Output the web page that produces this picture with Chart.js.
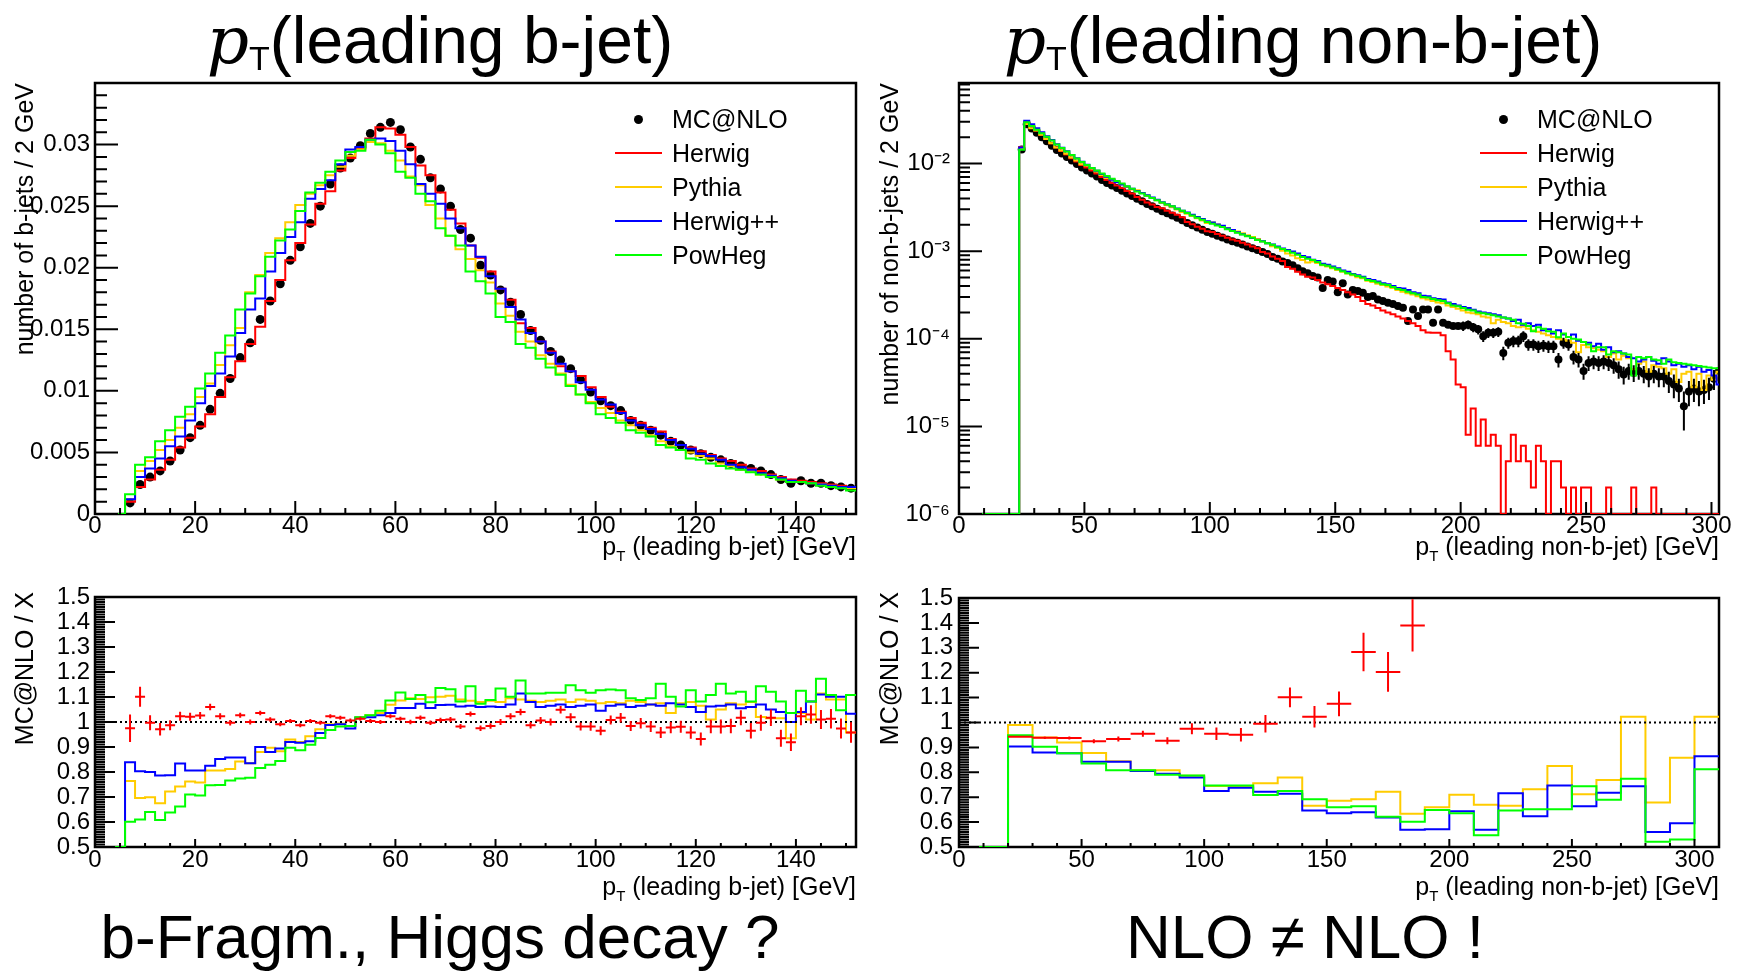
<!DOCTYPE html>
<html>
<head>
<meta charset="utf-8">
<script src="https://cdn.jsdelivr.net/npm/chart.js@4.4.1/dist/chart.umd.min.js"></script>
<style>
  body { margin: 0; background: #fff; width: 1745px; height: 971px; position: relative; overflow: hidden;
         font-family: "Liberation Sans", Arial, Helvetica, sans-serif; color: #000; }
  canvas { position: absolute; }
  .title { position: absolute; width: 600px; text-align: center; font-size: 66px; line-height: 66px; white-space: nowrap; }
  .title .pm { font-family: "DejaVu Serif", serif; font-style: italic; }
  .title .ps { font-size: 34px; vertical-align: -7px; }
  .big { position: absolute; width: 900px; text-align: center; font-size: 62px; line-height: 62px; white-space: nowrap; }
  .xt { position: absolute; font-size: 25px; line-height: 25px; white-space: nowrap; }
  .xt sub { font-size: 15px; vertical-align: -6px; line-height: 0; }
  .yt { position: absolute; width: 450px; text-align: right; font-size: 25px; line-height: 25px; white-space: nowrap;
        transform-origin: 0 0; transform: rotate(-90deg); }
  .lg { position: absolute; font-size: 25px; line-height: 34px; white-space: nowrap; }
  .lgline { position: absolute; height: 2px; }
  .lgdot { position: absolute; width: 9px; height: 9px; border-radius: 50%; background: #000; }
</style>
</head>
<body>
<canvas id="bTop" width="880" height="520" style="left:0px;top:60px"></canvas>
<canvas id="nTop" width="875" height="520" style="left:870px;top:60px"></canvas>
<canvas id="bRatio" width="880" height="320" style="left:0px;top:580px"></canvas>
<canvas id="nRatio" width="875" height="320" style="left:870px;top:580px"></canvas>

<div class="title" style="left:140px;top:7px"><span class="pm">p</span><span class="ps">T</span>(leading b-jet)</div>
<div class="title" style="left:1003px;top:7px"><span class="pm">p</span><span class="ps">T</span>(leading non-b-jet)</div>

<div class="yt" style="left:12px;top:533px">number of b-jets / 2 GeV</div>
<div class="yt" style="left:877px;top:533px">number of non-b-jets / 2 GeV</div>
<div class="yt" style="left:12px;top:1042px">MC@NLO / X</div>
<div class="yt" style="left:877px;top:1042px">MC@NLO / X</div>

<div class="xt" style="right:889px;top:534px">p<sub>T</sub> (leading b-jet) [GeV]</div>
<div class="xt" style="right:26px;top:534px">p<sub>T</sub> (leading non-b-jet) [GeV]</div>
<div class="xt" style="right:889px;top:874px">p<sub>T</sub> (leading b-jet) [GeV]</div>
<div class="xt" style="right:26px;top:874px">p<sub>T</sub> (leading non-b-jet) [GeV]</div>

<div class="big" style="left:-10px;top:906px">b-Fragm., Higgs decay ?</div>
<div class="big" style="left:855px;top:906px">NLO &ne; NLO !</div>

<script>
// ---- leading b-jet: 2 GeV bins, first filled bin starts at 6 GeV ----
const bBinStart = 6;
const bBinWidth = 2;
const bMcnlo = [
  0.0009, 0.0024, 0.0030, 0.0035, 0.0043, 0.0052, 0.0062, 0.0072, 0.0085, 0.0098,
  0.0110, 0.0127, 0.0139, 0.0158, 0.0173, 0.0187, 0.0206, 0.0217, 0.0236, 0.0250,
  0.0268, 0.0281, 0.0289, 0.0299, 0.0309, 0.0314, 0.0318, 0.0312, 0.0298, 0.0288,
  0.0273, 0.0264, 0.0250, 0.0231, 0.0224, 0.0202, 0.0194, 0.0182, 0.0172, 0.0162,
  0.0149, 0.0141, 0.0132, 0.0125, 0.0118, 0.0109, 0.0099, 0.0092, 0.0088, 0.0084,
  0.0076, 0.0072, 0.0068, 0.0064, 0.0059, 0.0056, 0.0052, 0.0049, 0.0046, 0.0044,
  0.0041, 0.0039, 0.0037, 0.0035, 0.0032, 0.0028, 0.0025, 0.0027, 0.0025, 0.0025,
  0.0023, 0.0022, 0.0021
];
const bHerwig = [
  0.0010, 0.0022, 0.0028, 0.0036, 0.0044, 0.0054, 0.0062, 0.0071, 0.0081, 0.0095,
  0.0111, 0.0124, 0.0138, 0.0152, 0.0173, 0.0190, 0.0206, 0.0220, 0.0235, 0.0252,
  0.0262, 0.0279, 0.0289, 0.0297, 0.0305, 0.0314, 0.0313, 0.0308, 0.0298, 0.0283,
  0.0275, 0.0261, 0.0247, 0.0236, 0.0218, 0.0208, 0.0197, 0.0183, 0.0174, 0.0155,
  0.0151, 0.0140, 0.0132, 0.0120, 0.0116, 0.0112, 0.0103, 0.0095, 0.0087, 0.0083,
  0.0078, 0.0074, 0.0070, 0.0067, 0.0061, 0.0056, 0.0054, 0.0051, 0.0048, 0.0045,
  0.0043, 0.0040, 0.0037, 0.0035, 0.0032, 0.0030, 0.0028, 0.0027, 0.0026, 0.0025,
  0.0024, 0.0023, 0.0022
];
const bPythia = [
  0.0012, 0.0035, 0.0043, 0.0052, 0.0060, 0.0070, 0.0081, 0.0095, 0.0106, 0.0121,
  0.0137, 0.0151, 0.0180, 0.0194, 0.0212, 0.0224, 0.0237, 0.0251, 0.0260, 0.0267,
  0.0275, 0.0282, 0.0291, 0.0296, 0.0302, 0.0301, 0.0295, 0.0287, 0.0274, 0.0267,
  0.0251, 0.0240, 0.0226, 0.0215, 0.0207, 0.0198, 0.0188, 0.0171, 0.0161, 0.0148,
  0.0140, 0.0129, 0.0122, 0.0114, 0.0105, 0.0097, 0.0091, 0.0086, 0.0082, 0.0076,
  0.0072, 0.0068, 0.0064, 0.0059, 0.0055, 0.0052, 0.0050, 0.0047, 0.0045, 0.0041,
  0.0039, 0.0036, 0.0035, 0.0032, 0.0031, 0.0028, 0.0026, 0.0026, 0.0025, 0.0024,
  0.0023, 0.0022, 0.0021
];
const bHerwigpp = [
  0.0012, 0.0030, 0.0037, 0.0045, 0.0055, 0.0063, 0.0076, 0.0090, 0.0104, 0.0114,
  0.0128, 0.0147, 0.0166, 0.0175, 0.0197, 0.0212, 0.0225, 0.0237, 0.0256, 0.0264,
  0.0271, 0.0284, 0.0296, 0.0298, 0.0304, 0.0305, 0.0303, 0.0295, 0.0284, 0.0268,
  0.0260, 0.0252, 0.0240, 0.0232, 0.0218, 0.0209, 0.0193, 0.0183, 0.0168, 0.0158,
  0.0147, 0.0140, 0.0131, 0.0122, 0.0116, 0.0107, 0.0101, 0.0093, 0.0089, 0.0082,
  0.0076, 0.0072, 0.0069, 0.0065, 0.0060, 0.0056, 0.0053, 0.0049, 0.0047, 0.0044,
  0.0040, 0.0038, 0.0036, 0.0033, 0.0031, 0.0029, 0.0027, 0.0026, 0.0025, 0.0024,
  0.0023, 0.0022, 0.0022
];
const bPowheg = [
  0.0016, 0.0040, 0.0046, 0.0059, 0.0068, 0.0079, 0.0087, 0.0102, 0.0114, 0.0131,
  0.0145, 0.0166, 0.0179, 0.0193, 0.0209, 0.0222, 0.0231, 0.0246, 0.0261, 0.0269,
  0.0278, 0.0287, 0.0294, 0.0295, 0.0304, 0.0300, 0.0293, 0.0278, 0.0273, 0.0260,
  0.0254, 0.0232, 0.0226, 0.0218, 0.0197, 0.0189, 0.0179, 0.0160, 0.0156, 0.0138,
  0.0135, 0.0126, 0.0119, 0.0113, 0.0104, 0.0097, 0.0090, 0.0081, 0.0078, 0.0074,
  0.0068, 0.0066, 0.0063, 0.0056, 0.0054, 0.0052, 0.0045, 0.0044, 0.0041, 0.0039,
  0.0037, 0.0036, 0.0034, 0.0032, 0.0030, 0.0028, 0.0026, 0.0026, 0.0025, 0.0023,
  0.0022, 0.0021, 0.0019
];
// ratio MC@NLO / X, same binning
const bRatioHerwig = [
  0.975, 1.101, 0.997, 0.971, 0.987, 1.023, 1.021, 1.026, 1.060, 1.023,
  0.997, 1.027, 1.000, 1.036, 1.010, 0.991, 1.004, 0.987, 1.004, 0.997,
  1.023, 1.017, 1.006, 1.013, 1.004, 1.000, 1.023, 1.013, 1.000, 1.017,
  0.997, 1.008, 1.010, 0.982, 1.032, 0.975, 0.984, 1.000, 1.023, 1.040,
  0.987, 1.006, 1.000, 1.049, 1.019, 0.982, 0.982, 0.965, 1.008, 1.017,
  0.984, 0.995, 0.982, 0.958, 0.978, 0.981, 0.958, 0.932, 0.982, 0.982,
  0.984, 1.017, 0.965, 0.997, 1.017, 0.935, 0.919, 1.023, 1.030, 1.010,
  1.013, 0.974, 0.958
];
const bRatioHerwigErr = [
  0.055, 0.040, 0.030, 0.025, 0.020, 0.018, 0.016, 0.014, 0.013, 0.012,
  0.011, 0.010, 0.010, 0.009, 0.009, 0.008, 0.008, 0.008, 0.008, 0.008,
  0.008, 0.008, 0.008, 0.008, 0.008, 0.008, 0.008, 0.008, 0.009, 0.009,
  0.009, 0.009, 0.010, 0.010, 0.010, 0.011, 0.011, 0.012, 0.012, 0.013,
  0.013, 0.014, 0.014, 0.015, 0.016, 0.016, 0.017, 0.018, 0.018, 0.019,
  0.020, 0.021, 0.022, 0.022, 0.023, 0.024, 0.025, 0.026, 0.027, 0.028,
  0.029, 0.030, 0.031, 0.032, 0.033, 0.034, 0.035, 0.036, 0.037, 0.038,
  0.039, 0.040, 0.041
];
const bRatioPythia = [
  0.764, 0.696, 0.699, 0.675, 0.722, 0.742, 0.762, 0.758, 0.806, 0.806,
  0.812, 0.842, 0.835, 0.880, 0.897, 0.883, 0.930, 0.920, 0.943, 0.971,
  0.991, 0.994, 0.984, 1.019, 1.027, 1.036, 1.069, 1.086, 1.095, 1.092,
  1.099, 1.101, 1.105, 1.090, 1.085, 1.080, 1.085, 1.080, 1.095, 1.090,
  1.085, 1.080, 1.085, 1.090, 1.080, 1.090, 1.085, 1.075, 1.080, 1.075,
  1.085, 1.080, 1.070, 1.075, 1.036, 1.075, 1.080, 1.065, 1.010, 1.050,
  1.075, 1.070, 1.080, 1.020, 1.015, 1.015, 0.935, 1.036, 1.010, 1.114,
  1.090, 1.090, 0.958
];
const bRatioHerwigpp = [
  0.839, 0.803, 0.800, 0.786, 0.787, 0.834, 0.806, 0.806, 0.825, 0.852,
  0.858, 0.858, 0.835, 0.900, 0.880, 0.894, 0.920, 0.917, 0.923, 0.956,
  0.988, 0.991, 0.974, 1.017, 1.019, 1.027, 1.036, 1.056, 1.056, 1.073,
  1.056, 1.068, 1.069, 1.062, 1.065, 1.060, 1.062, 1.060, 1.070, 1.114,
  1.080, 1.060, 1.065, 1.070, 1.060, 1.065, 1.070, 1.045, 1.065, 1.070,
  1.060, 1.065, 1.070, 1.065, 1.075, 1.070, 1.060, 1.040, 1.062, 1.065,
  1.070, 1.055, 1.060, 1.070, 1.050, 1.040, 1.000, 1.040, 1.082, 1.110,
  1.101, 1.101, 1.033
];
const bRatioPowheg = [
  0.601, 0.610, 0.640, 0.608, 0.638, 0.662, 0.710, 0.706, 0.747, 0.748,
  0.766, 0.774, 0.777, 0.816, 0.829, 0.844, 0.897, 0.887, 0.909, 0.936,
  0.968, 0.982, 0.984, 1.019, 1.027, 1.045, 1.086, 1.118, 1.092, 1.108,
  1.079, 1.136, 1.131, 1.082, 1.143, 1.073, 1.088, 1.134, 1.101, 1.166,
  1.114, 1.114, 1.117, 1.117, 1.147, 1.127, 1.117, 1.127, 1.130, 1.127,
  1.095, 1.088, 1.095, 1.153, 1.101, 1.062, 1.127, 1.082, 1.108, 1.153,
  1.114, 1.121, 1.082, 1.143, 1.121, 1.082, 1.036, 1.125, 1.082, 1.173,
  1.108, 1.047, 1.108
];

// ---- leading non-b-jet: 2 GeV bins from 24 GeV, values in units of 1e-6 ----
const nBinStart = 24;
const nBinWidth = 2;
const nUnit = 1e-6;
const nMcnlo = [
  14500, 28000, 25100, 22400, 20000, 17900, 16000, 14300, 13000, 11900,
  10800, 9900, 9000, 8300, 7700, 7100, 6500, 6000, 5600, 5250,
  4900, 4550, 4250, 3950, 3700, 3450, 3250, 3050, 2850, 2700,
  2550, 2400, 2250, 2100, 1980, 1860, 1760, 1650, 1580, 1500,
  1430, 1360, 1300, 1250, 1190, 1130, 1080, 1030, 980, 930,
  860, 820, 760, 730, 690, 640, 590, 560, 520, 500,
  380, 470, 450, 340, 430, 320, 360, 350, 335, 300,
  307, 281, 270, 258, 250, 236, 226, 159, 216, 182,
  216, 216, 152, 216, 152, 145, 140, 140, 140, 145,
  135, 128, 107, 117, 117, 120, 69, 90, 94, 94,
  107, 86, 86, 82, 84, 82, 82, 58, 90, 86,
  62, 58, 43, 53, 55, 53, 55, 53, 50, 45,
  39, 43, 41, 43, 40, 37, 40, 37, 37, 33,
  30, 27, 17, 25, 27, 25, 26, 28, 35, 43
];
const nMcnloErrFrom = 200;   // error bars drawn from this pT on
const nMcnloErr = [
  17, 17, 16, 16, 15, 15, 15, 15, 12, 13,
  14, 14, 15, 13, 13, 13, 13, 13, 13, 11,
  13, 13, 11, 11, 9, 10, 10, 10, 10, 10,
  10, 10, 9, 9, 9, 9, 9, 9, 9, 9,
  9, 9, 9, 8, 8, 8, 8, 8, 8, 8, 9, 10
];
const nHerwig = [
  15400, 29700, 26600, 23800, 21300, 19000, 17000, 15200, 13900, 12700,
  11500, 10550, 9600, 9000, 8300, 7700, 7000, 6500, 6000, 5600,
  5250, 4850, 4550, 4150, 3870, 3600, 3400, 3200, 3080, 2900,
  2750, 2600, 2430, 2150, 2030, 1900, 1800, 1690, 1650, 1570,
  1500, 1420, 1360, 1310, 1250, 1190, 1130, 1080, 980, 940,
  870, 820, 770, 660, 630, 580, 540, 510, 500, 470,
  440, 420, 400, 380, 360, 340, 320, 300, 270, 250,
  240, 225, 210, 200, 190, 180, 170, 160, 150, 140,
  125, 118, 117, 117, 110, 72, 58, 30, 28, 8,
  16, 6, 12, 6, 8, 6, 0, 4, 8, 4,
  6, 4, 2, 6, 4, 0, 4, 4, 2, 0,
  2, 0, 2, 2, 0, 0, 0, 2, 0, 0,
  0, 0, 2, 0, 0, 0, 2, 0, 0, 0,
  0, 0, 0, 0, 0, 0, 0, 0, 0, 0
];
const nPythia = [
  14650, 28300, 25350, 23800, 21300, 19000, 17000, 15200, 14100, 12900,
  11700, 10800, 9800, 9500, 8800, 8100, 7400, 6850, 6600, 6200,
  5800, 5400, 5050, 4950, 4600, 4300, 4050, 3800, 3550, 3350,
  3170, 2980, 2800, 2680, 2520, 2370, 2240, 2100, 2120, 2010,
  1920, 1830, 1740, 1680, 1600, 1520, 1450, 1380, 1300, 1230,
  1140, 1090, 1010, 940, 890, 830, 790, 740, 760, 730,
  690, 670, 640, 610, 580, 555, 530, 505, 490, 460,
  445, 425, 410, 395, 380, 360, 345, 330, 320, 305,
  290, 280, 270, 260, 255, 240, 230, 220, 210, 200,
  195, 190, 180, 175, 150, 165, 155, 150, 140, 135,
  138, 130, 125, 120, 115, 110, 105, 100, 98, 95,
  90, 70, 85, 80, 78, 75, 72, 62, 68, 58,
  64, 60, 45, 52, 55, 42, 50, 48, 46, 40,
  45, 32, 40, 42, 28, 40, 26, 38, 34, 42
];
const nHerwigpp = [
  15200, 30800, 28000, 25300, 22800, 20500, 18500, 16600, 15100, 13800,
  12500, 11500, 10500, 9700, 8900, 8250, 7600, 7050, 6550, 6100,
  5750, 5450, 5150, 4850, 4600, 4350, 4100, 3850, 3620, 3420,
  3250, 3060, 2900, 2760, 2600, 2450, 2330, 2200, 2120, 2020,
  1950, 1830, 1740, 1640, 1560, 1490, 1410, 1350, 1300, 1230,
  1190, 1130, 1070, 1030, 990, 940, 880, 850, 800, 770,
  720, 700, 670, 640, 600, 580, 550, 530, 510, 480,
  470, 450, 430, 420, 400, 380, 375, 360, 340, 330,
  310, 305, 290, 285, 280, 260, 250, 240, 230, 225,
  215, 205, 200, 195, 190, 185, 175, 170, 160, 165,
  145, 150, 140, 145, 125, 128, 115, 125, 112, 105,
  112, 95, 92, 90, 82, 88, 75, 80, 70, 72,
  68, 62, 60, 55, 58, 62, 56, 52, 60, 55,
  50, 52, 48, 50, 45, 48, 42, 44, 38, 30
];
const nPowheg = [
  14400, 29500, 26800, 24300, 22200, 20200, 18300, 16500, 15000, 13700,
  12500, 11400, 10400, 9600, 8900, 8300, 7700, 7200, 6700, 6300,
  5900, 5500, 5150, 4800, 4550, 4300, 4050, 3800, 3600, 3400,
  3250, 3050, 2900, 2730, 2550, 2400, 2280, 2150, 2050, 1960,
  1880, 1780, 1700, 1620, 1550, 1480, 1420, 1340, 1290, 1230,
  1180, 1110, 1060, 1010, 960, 910, 860, 820, 790, 750,
  700, 680, 650, 620, 590, 560, 540, 520, 500, 470,
  455, 440, 420, 410, 390, 370, 360, 345, 330, 320,
  300, 295, 285, 275, 270, 255, 240, 235, 225, 215,
  210, 200, 195, 190, 185, 180, 175, 170, 165, 150,
  148, 140, 122, 135, 130, 122, 120, 104, 115, 105,
  100, 98, 92, 86, 72, 80, 80, 66, 72, 70,
  68, 66, 38, 62, 60, 62, 58, 57, 52, 58,
  54, 53, 52, 51, 50, 49, 48, 47, 46, 46
];
// ratio MC@NLO / X: 10 GeV bins from 20 GeV
const nRatioStart = 20;
const nRatioWidth = 10;
const nRatioHerwig = [0.943, 0.939, 0.938, 0.925, 0.934, 0.955, 0.927, 0.975, 0.955, 0.951,
                      0.995, 1.101, 1.023, 1.075, 1.283, 1.203, 1.390];
const nRatioHerwigErr = [0.004, 0.005, 0.006, 0.008, 0.010, 0.012, 0.014, 0.022, 0.025, 0.027,
                         0.035, 0.040, 0.043, 0.050, 0.077, 0.080, 0.105];
const nRatioPythia = [0.990, 0.940, 0.920, 0.878, 0.844, 0.808, 0.808, 0.786, 0.745, 0.745,
                      0.756, 0.779, 0.666, 0.686, 0.692, 0.722, 0.634, 0.660, 0.710, 0.670,
                      0.666, 0.732, 0.825, 0.712, 0.769, 1.023, 0.679, 0.858, 1.023];
const nRatioHerwigpp = [0.904, 0.880, 0.877, 0.842, 0.842, 0.805, 0.794, 0.779, 0.725, 0.738,
                        0.722, 0.714, 0.647, 0.636, 0.640, 0.618, 0.569, 0.571, 0.644, 0.569,
                        0.716, 0.623, 0.747, 0.664, 0.718, 0.744, 0.560, 0.595, 0.864];
const nRatioPowheg = [0.949, 0.903, 0.877, 0.835, 0.808, 0.808, 0.790, 0.787, 0.747, 0.747,
                      0.709, 0.725, 0.692, 0.660, 0.664, 0.621, 0.601, 0.649, 0.636, 0.547,
                      0.647, 0.652, 0.652, 0.744, 0.690, 0.774, 0.521, 0.530, 0.812];

// ---- axis ticks ----
const bXTicks = [0, 20, 40, 60, 80, 100, 120, 140];
const bYTicks = [0, 0.005, 0.01, 0.015, 0.02, 0.025, 0.03];
const nXTicks = [0, 50, 100, 150, 200, 250, 300];
const nYTicks = [1e-6, 1e-5, 1e-4, 1e-3, 1e-2];
const ratioTicks = [0.5, 0.6, 0.7, 0.8, 0.9, 1, 1.1, 1.2, 1.3, 1.4, 1.5];

const names = ["MC@NLO", "Herwig", "Pythia", "Herwig++", "PowHeg"];
const colors = ["#000000", "#ff0000", "#ffcc00", "#0000ff", "#00ff00"];

Chart.defaults.font.family = "'Liberation Sans', Arial, Helvetica, sans-serif";
Chart.defaults.color = "#000";

const SUP = { "-": "\u207b", "0": "\u2070", "1": "\u00b9", "2": "\u00b2", "3": "\u00b3",
              "4": "\u2074", "5": "\u2075", "6": "\u2076", "7": "\u2077", "8": "\u2078", "9": "\u2079" };
const fmtLin = (v) => String(+Number(v).toFixed(4));
const fmtLog = (v) => "10" + String(Math.round(Math.log10(v))).split("").map((c) => SUP[c]).join("");

// ROOT-like frame (under the histograms) with inward ticks, plus error bars / crosses
const rootAxes = {
  id: "rootAxes",
  beforeDatasetsDraw(chart) {
    const { ctx, chartArea: a } = chart;
    ctx.save();
    ctx.strokeStyle = "#000";
    ctx.lineWidth = 2.5;
    ctx.strokeRect(a.left, a.top, a.right - a.left, a.bottom - a.top);
    ctx.restore();
  },
  afterDatasetsDraw(chart) {
    const { ctx, chartArea: a, scales: { x, y } } = chart;
    ctx.save();
    ctx.beginPath();
    ctx.rect(a.left, a.top, a.right - a.left, a.bottom - a.top);
    ctx.clip();
    chart.data.datasets.forEach((ds) => {
      if (!ds.errorBars) return;
      ctx.strokeStyle = ds.errorColor;
      ctx.lineWidth = 2;
      ctx.beginPath();
      ds.data.forEach((p) => {
        const px = x.getPixelForValue(p.x);
        const py = y.getPixelForValue(p.y);
        if (p.ex) {
          ctx.moveTo(x.getPixelForValue(p.x - p.ex), py);
          ctx.lineTo(x.getPixelForValue(p.x + p.ex), py);
        }
        if (p.ey) {
          ctx.moveTo(px, y.getPixelForValue(p.y - p.ey));
          ctx.lineTo(px, y.getPixelForValue(p.y + p.ey));
        }
      });
      ctx.stroke();
    });
    ctx.restore();
  },
  afterDraw(chart, args, o) {
    const { ctx, chartArea: a, scales: { x, y } } = chart;
    const steps = (s, step) => {
      const out = [];
      for (let k = Math.ceil(s.min / step - 1e-9); k * step <= s.max + 1e-9; k++) out.push(k * step);
      return out;
    };
    let yMinor;
    if (o.log) {
      yMinor = [];
      for (let e = Math.floor(Math.log10(y.min)); e <= Math.ceil(Math.log10(y.max)); e++) {
        for (let k = 1; k <= 9; k++) {
          const v = k * Math.pow(10, e);
          if (v >= y.min * 0.999 && v <= y.max) yMinor.push(v);
        }
      }
    } else {
      yMinor = steps(y, o.yMinor);
    }
    ctx.save();
    ctx.strokeStyle = "#000";
    ctx.lineWidth = 2;
    ctx.beginPath();
    steps(x, o.xMinor).forEach((v) => {
      const px = x.getPixelForValue(v);
      ctx.moveTo(px, a.bottom); ctx.lineTo(px, a.bottom - o.xMinLen);
    });
    x.ticks.forEach((t) => {
      const px = x.getPixelForValue(t.value);
      ctx.moveTo(px, a.bottom); ctx.lineTo(px, a.bottom - o.xMajLen);
    });
    yMinor.forEach((v) => {
      const py = y.getPixelForValue(v);
      ctx.moveTo(a.left, py); ctx.lineTo(a.left + o.yMinLen, py);
    });
    y.ticks.forEach((t) => {
      const py = y.getPixelForValue(t.value);
      ctx.moveTo(a.left, py); ctx.lineTo(a.left + o.yMajLen, py);
    });
    ctx.stroke();
    ctx.restore();
  }
};

function axis(type, pos, min, max, ticks, size, pad, fmt) {
  const horizontal = pos === "bottom";
  return {
    type, position: pos, min, max,
    afterBuildTicks: (s) => { s.ticks = ticks.map((v) => ({ value: v })); },
    afterFit: (s) => { if (horizontal) s.height = size; else s.width = size; },
    grid: { display: false, drawTicks: false },
    border: { display: false },
    ticks: { autoSkip: false, maxRotation: 0, padding: pad, color: "#000",
             font: { size: 24, lineHeight: 1 }, callback: fmt }
  };
}

// histogram outline: horizontal across each bin, vertical at the bin edges
function histLine(vals, start, width, color, axisMin, floor, unit) {
  const k = unit || 1;
  const pts = [{ x: axisMin, y: floor }, { x: start, y: floor }];
  vals.forEach((v, i) => pts.push({ x: start + (i + 1) * width, y: Math.max(v * k, floor) }));
  return { type: "line", data: pts, borderColor: color, borderWidth: 2, stepped: "after",
           pointRadius: 0, fill: false };
}

function crosses(vals, errs, start, width, color) {
  return {
    type: "scatter", pointRadius: 0, errorBars: true, errorColor: color,
    data: vals.map((v, i) => ({ x: start + (i + 0.5) * width, y: v, ex: width / 2, ey: errs[i] }))
  };
}

function unityLine(xMin, xMax) {
  return { type: "line", data: [{ x: xMin, y: 1 }, { x: xMax, y: 1 }], borderColor: "#000",
           borderWidth: 1.8, borderDash: [2, 3], pointRadius: 0, fill: false };
}

function makeChart(id, datasets, scales, padding, axesOpts) {
  return new Chart(document.getElementById(id), {
    type: "scatter",
    data: { datasets },
    options: {
      responsive: false, animation: false, devicePixelRatio: 1, events: [],
      layout: { padding },
      scales,
      plugins: { legend: { display: false }, tooltip: { enabled: false }, rootAxes: axesOpts }
    },
    plugins: [rootAxes]
  });
}

// top left: leading b-jet
makeChart("bTop", [
  histLine(bPowheg, bBinStart, bBinWidth, colors[4], 0, 0),
  histLine(bHerwigpp, bBinStart, bBinWidth, colors[3], 0, 0),
  histLine(bPythia, bBinStart, bBinWidth, colors[2], 0, 0),
  histLine(bHerwig, bBinStart, bBinWidth, colors[1], 0, 0),
  { type: "scatter", pointRadius: 4.5, pointBackgroundColor: "#000", pointBorderWidth: 0,
    data: bMcnlo.map((v, i) => ({ x: bBinStart + (i + 0.5) * bBinWidth, y: v })) }
], {
  x: axis("linear", "bottom", 0, 152, bXTicks, 66, 0, fmtLin),
  y: axis("linear", "left", 0, 0.035, bYTicks, 95, 5, fmtLin)
}, { left: 0, top: 23, right: 24, bottom: 0 },
{ xMinor: 5, xMajLen: 13, xMinLen: 6, yMinor: 0.001, yMajLen: 23, yMinLen: 12 });

// top right: leading non-b-jet (log)
const nFloor = nYTicks[0];
makeChart("nTop", [
  histLine(nPowheg, nBinStart, nBinWidth, colors[4], 0, nFloor, nUnit),
  histLine(nHerwigpp, nBinStart, nBinWidth, colors[3], 0, nFloor, nUnit),
  histLine(nPythia, nBinStart, nBinWidth, colors[2], 0, nFloor, nUnit),
  histLine(nHerwig, nBinStart, nBinWidth, colors[1], 0, nFloor, nUnit),
  { type: "scatter", pointRadius: 4, pointBackgroundColor: "#000", pointBorderWidth: 0,
    errorBars: true, errorColor: "#000",
    data: nMcnlo.map((v, i) => {
      const k = i - (nMcnloErrFrom - nBinStart) / nBinWidth;
      return { x: nBinStart + (i + 0.5) * nBinWidth, y: v * nUnit, ey: k >= 0 ? nMcnloErr[k] * nUnit : 0 };
    }) }
], {
  x: axis("linear", "bottom", 0, 303, nXTicks, 66, 0, fmtLin),
  y: axis("logarithmic", "left", 1e-6, 0.083, nYTicks, 89, 9, fmtLog)
}, { left: 0, top: 23, right: 26, bottom: 0 },
{ xMinor: 10, xMajLen: 12, xMinLen: 6, log: true, yMajLen: 23, yMinLen: 11 });

// bottom left: ratio for b-jet
makeChart("bRatio", [
  crosses(bRatioHerwig, bRatioHerwigErr, bBinStart, bBinWidth, colors[1]),
  unityLine(0, 152),
  histLine(bRatioPowheg, bBinStart, bBinWidth, colors[4], 0, 0.5),
  histLine(bRatioHerwigpp, bBinStart, bBinWidth, colors[3], 0, 0.5),
  histLine(bRatioPythia, bBinStart, bBinWidth, colors[2], 0, 0.5)
], {
  x: axis("linear", "bottom", 0, 152, bXTicks, 53, 1, fmtLin),
  y: axis("linear", "left", 0.5, 1.5, ratioTicks, 95, 5, fmtLin)
}, { left: 0, top: 11, right: 24, bottom: 0 },
{ xMinor: 5, xMajLen: 8, xMinLen: 4, yMinor: 0.01, yMajLen: 20, yMinLen: 10 });

// bottom right: ratio for non-b-jet
makeChart("nRatio", [
  crosses(nRatioHerwig, nRatioHerwigErr, nRatioStart, nRatioWidth, colors[1]),
  unityLine(0, 310),
  histLine(nRatioPowheg, nRatioStart, nRatioWidth, colors[4], 0, 0.5),
  histLine(nRatioHerwigpp, nRatioStart, nRatioWidth, colors[3], 0, 0.5),
  histLine(nRatioPythia, nRatioStart, nRatioWidth, colors[2], 0, 0.5)
], {
  x: axis("linear", "bottom", 0, 310, nXTicks, 53, 1, fmtLin),
  y: axis("linear", "left", 0.5, 1.5, ratioTicks, 89, 6, fmtLin)
}, { left: 0, top: 11, right: 26, bottom: 0 },
{ xMinor: 10, xMajLen: 8, xMinLen: 4, yMinor: 0.01, yMajLen: 20, yMinLen: 10 });

// legends
function legend(lineLeft) {
  names.forEach((name, i) => {
    const cy = 119 + 34 * i;
    if (i === 0) {
      const d = document.createElement("div");
      d.className = "lgdot";
      d.style.left = (lineLeft + 19) + "px";
      d.style.top = (cy - 4.5) + "px";
      document.body.appendChild(d);
    } else {
      const l = document.createElement("div");
      l.className = "lgline";
      l.style.left = lineLeft + "px";
      l.style.width = "47px";
      l.style.top = (cy - 1) + "px";
      l.style.background = colors[i];
      document.body.appendChild(l);
    }
    const t = document.createElement("div");
    t.className = "lg";
    t.style.left = (lineLeft + 57) + "px";
    t.style.top = (cy - 17) + "px";
    t.textContent = name;
    document.body.appendChild(t);
  });
}
legend(615);
legend(1480);
</script>
</body>
</html>
